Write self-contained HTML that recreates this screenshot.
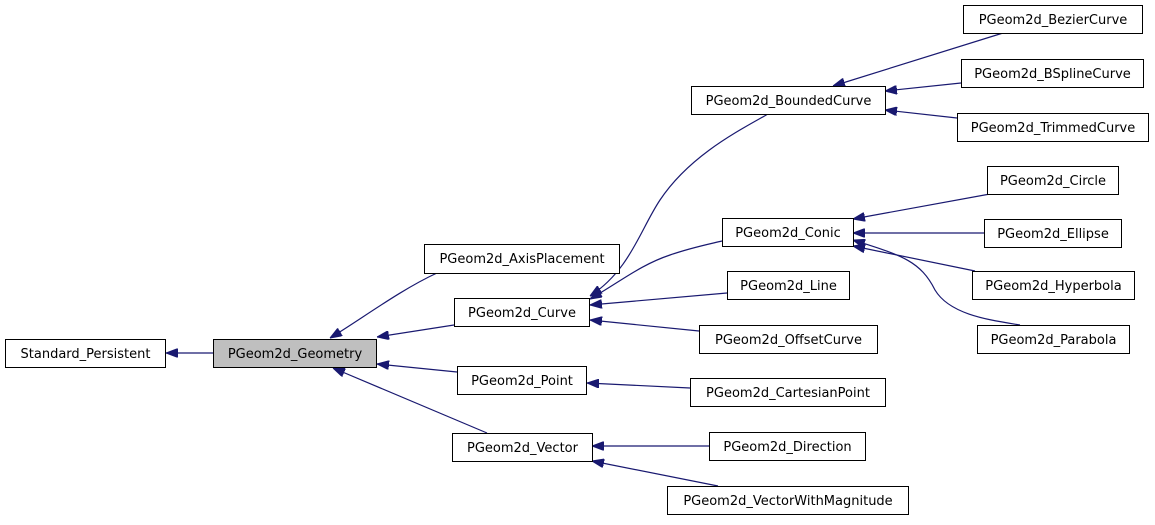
<!DOCTYPE html>
<html><head><meta charset="utf-8"><style>
html,body{margin:0;padding:0;background:#fff;}
svg text{font-family:"DejaVu Sans","Liberation Sans",sans-serif;font-size:13px;fill:#000;}
</style></head><body>
<svg width="1155" height="520" viewBox="0 0 1155 520" xmlns="http://www.w3.org/2000/svg">
<defs>
<marker id="a" viewBox="0 0 12 9" refX="12" refY="4.5" markerWidth="12" markerHeight="9" markerUnits="userSpaceOnUse" orient="auto">
<polygon points="0,0 12,4.5 0,9" fill="#191970" stroke="#191970" stroke-width="1"/>
</marker>
</defs>
<g fill="none" stroke="#191970" stroke-width="1.2" marker-end="url(#a)">
<path d="M213,353 L166,353"/>
<path d="M437,273 C400,290 360,320 330,338"/>
<path d="M454,325 L377,337"/>
<path d="M457,372 L377,364"/>
<path d="M487,433 L333,368"/>
<path d="M768,114 C740,130 690,155 660,200 C640,230 630,270 590,296"/>
<path d="M722,241 C705,245 690,248 670,255 C640,265 620,282 590,299"/>
<path d="M727,293 L590,305"/>
<path d="M699,331 L590,320"/>
<path d="M690,388 L587,383"/>
<path d="M709,446 L592,446"/>
<path d="M718,486 L592,461"/>
<path d="M1003,33 L833,86"/>
<path d="M961,83 L885,91"/>
<path d="M957,118 L885,110"/>
<path d="M990,194 L853,219"/>
<path d="M984,233 L853,233"/>
<path d="M975,271 L853,246"/>
<path d="M1020,325 C990,320 950,315 935,290 C920,260 900,255 853,240"/>
</g>
<g stroke="#000" stroke-width="1" fill="#fff">
<rect x="5.5" y="339.5" width="160" height="28"/>
<rect x="213.5" y="339.5" width="163" height="28" fill="#bfbfbf"/>
<rect x="424.5" y="244.5" width="195" height="29"/>
<rect x="454.5" y="298.5" width="135" height="28"/>
<rect x="457.5" y="366.5" width="129" height="28"/>
<rect x="452.5" y="433.5" width="140" height="28"/>
<rect x="691.5" y="86.5" width="194" height="28"/>
<rect x="722.5" y="218.5" width="131" height="28"/>
<rect x="727.5" y="271.5" width="122" height="28"/>
<rect x="699.5" y="325.5" width="178" height="28"/>
<rect x="690.5" y="378.5" width="195" height="28"/>
<rect x="709.5" y="432.5" width="156" height="28"/>
<rect x="667.5" y="486.5" width="241" height="28"/>
<rect x="963.5" y="5.5" width="179" height="28"/>
<rect x="961.5" y="59.5" width="182" height="28"/>
<rect x="957.5" y="113.5" width="191" height="28"/>
<rect x="987.5" y="166.5" width="131" height="28"/>
<rect x="984.5" y="219.5" width="137" height="28"/>
<rect x="972.5" y="271.5" width="162" height="28"/>
<rect x="977.5" y="325.5" width="152" height="28"/>
</g>
<g text-anchor="middle">
<text x="85.5" y="358">Standard_Persistent</text>
<text x="295" y="358">PGeom2d_Geometry</text>
<text x="522" y="263">PGeom2d_AxisPlacement</text>
<text x="522" y="317">PGeom2d_Curve</text>
<text x="522" y="385">PGeom2d_Point</text>
<text x="522.5" y="452">PGeom2d_Vector</text>
<text x="788.5" y="105">PGeom2d_BoundedCurve</text>
<text x="788" y="237">PGeom2d_Conic</text>
<text x="788.5" y="290">PGeom2d_Line</text>
<text x="788.5" y="344">PGeom2d_OffsetCurve</text>
<text x="788" y="397">PGeom2d_CartesianPoint</text>
<text x="787.5" y="451">PGeom2d_Direction</text>
<text x="788" y="505">PGeom2d_VectorWithMagnitude</text>
<text x="1053" y="24">PGeom2d_BezierCurve</text>
<text x="1052.5" y="78">PGeom2d_BSplineCurve</text>
<text x="1053" y="132">PGeom2d_TrimmedCurve</text>
<text x="1053" y="185">PGeom2d_Circle</text>
<text x="1053" y="238">PGeom2d_Ellipse</text>
<text x="1053.5" y="290">PGeom2d_Hyperbola</text>
<text x="1053.5" y="344">PGeom2d_Parabola</text>
</g>
</svg>
</body></html>
